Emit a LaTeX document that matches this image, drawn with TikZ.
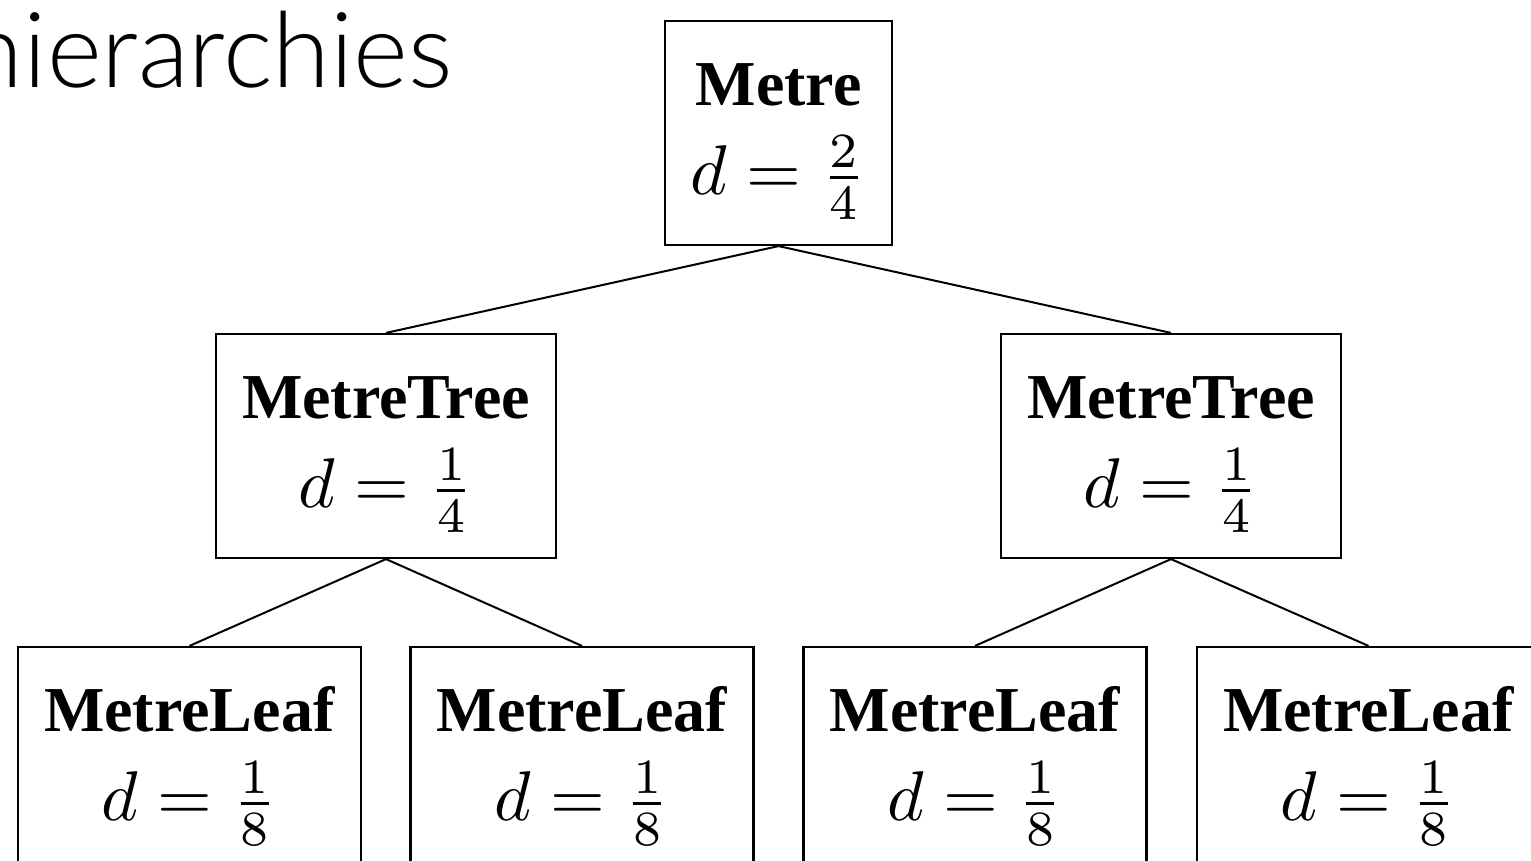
\documentclass[tikz,border=0pt]{standalone}
\usepackage{fontspec}
\setmainfont{Liberation Serif}
\newfontfamily\titlefont{Lato Light}
\usepackage{amsmath}
\usepackage{graphicx}
\usetikzlibrary{positioning}

% Beschriftung: Name fett, darunter d als Bruch (10pt-Satz, hochskaliert)
\newcommand{\metrelabel}[3]{\raisebox{-62pt}[0pt][0pt]{\scalebox{6.4}{\fontsize{10}{12}\selectfont
    \begin{tabular}[b]{@{}c@{}}\textbf{#1}\\[1.1pt] \scalebox{1.1}{$d=\frac{#2}{#3}$}\end{tabular}}}}

\tikzset{
    metrebox/.style={draw, line width=2.2pt, rectangle, align=center, inner sep=0pt},
    branch/.style={line width=2pt}
}

\begin{document}
\begin{tikzpicture}[x=1pt, y=1pt]

    \useasboundingbox (0,0) rectangle (1531,860);
    \clip (0,0) rectangle (1531,860);

    % --- Titel (abgeschnitten) ---
    \node[anchor=base east, inner sep=0pt, font=\titlefont\fontsize{105}{120}\selectfont] (title) at (453,772) {hierarchies};

    % --- Wurzel ---
    \node[metrebox, minimum width=227, minimum height=224] (metre) at (778.5,727)
        {\metrelabel{Metre}{2}{4}};

    % --- Mittlere Ebene ---
    \node[metrebox, minimum width=340, minimum height=224] (treeL) at (386,414)
        {\metrelabel{MetreTree}{1}{4}};
    \node[metrebox, minimum width=340, minimum height=224] (treeR) at (1171,414)
        {\metrelabel{MetreTree}{1}{4}};

    % --- Blätter (unten abgeschnitten) ---
    \node[metrebox, minimum width=343, minimum height=224] (leafA) at (189.5,101)
        {\metrelabel{MetreLeaf}{1}{8}};
    \node[metrebox, minimum width=343, minimum height=224] (leafB) at (582,101)
        {\metrelabel{MetreLeaf}{1}{8}};
    \node[metrebox, minimum width=343, minimum height=224] (leafC) at (975,101)
        {\metrelabel{MetreLeaf}{1}{8}};
    \node[metrebox, minimum width=343, minimum height=224] (leafD) at (1368.5,101)
        {\metrelabel{MetreLeaf}{1}{8}};

    % Kanten
    \draw[branch] (metre.south) -- (treeL.north);
    \draw[branch] (metre.south) -- (treeR.north);
    \draw[branch] (treeL.south) -- (leafA.north);
    \draw[branch] (treeL.south) -- (leafB.north);
    \draw[branch] (treeR.south) -- (leafC.north);
    \draw[branch] (treeR.south) -- (leafD.north);

\end{tikzpicture}
\end{document}
